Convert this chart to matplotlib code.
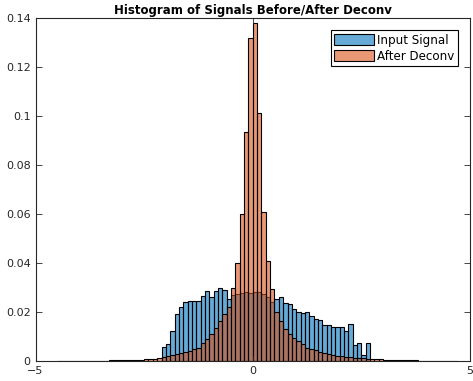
import numpy as np
import matplotlib
matplotlib.use("Agg")
import matplotlib.pyplot as plt

bin_width = 0.1

# Input signal histogram (probability), bins start at -2.1
blue_start = -2.1
blue_vals = [0.0058, 0.0068, 0.0124, 0.0193, 0.0221, 0.0241, 0.0245, 0.0245, 0.0243, 0.0264,
             0.0284, 0.0260, 0.0284, 0.0296, 0.0289, 0.0255, 0.0270, 0.0275, 0.0278, 0.0283,
             0.0277, 0.0280, 0.0283, 0.0275, 0.0262, 0.0240, 0.0255, 0.0262, 0.0235, 0.0231,
             0.0211, 0.0199, 0.0195, 0.0199, 0.0182, 0.0173, 0.0167, 0.0147, 0.0146, 0.0140,
             0.0139, 0.0139, 0.0122, 0.0152, 0.0065, 0.0072, 0.0024, 0.0072]

# After deconvolution histogram (probability), bins start at -4.5
orange_start = -4.5
orange_vals = [0.00003, 0.00004, 0.00005, 0.00006, 0.00007, 0.00008, 0.00010, 0.00011, 0.00013, 0.00015,
               0.00017, 0.00020, 0.00023, 0.00027, 0.00030, 0.00035, 0.00040, 0.00046, 0.00053, 0.00060,
               0.00070, 0.00080, 0.00090, 0.00110,
               0.0015, 0.0020, 0.0024, 0.0029, 0.0034, 0.0038, 0.0042, 0.0048, 0.0054, 0.0072,
               0.0090, 0.0110, 0.0134, 0.0165, 0.0190, 0.0222, 0.0297, 0.0400, 0.0600, 0.0936,
               0.1320, 0.1378, 0.1013, 0.0610, 0.0410, 0.0293, 0.0201, 0.0165, 0.0129, 0.0109,
               0.0093, 0.0082, 0.0068, 0.0054, 0.0049, 0.0044, 0.0038, 0.0034, 0.0029, 0.0025,
               0.0022, 0.0020, 0.0018, 0.0016, 0.0014, 0.0012, 0.0011, 0.0010, 0.0009, 0.0008,
               0.0007, 0.0006, 0.00053, 0.00046, 0.00040, 0.00035, 0.00030, 0.00026, 0.00022, 0.00019,
               0.00016, 0.00013, 0.00011, 0.00009, 0.00007, 0.00006, 0.00005, 0.00004]

labels = ["Input Signal", "After Deconv"]
title = "Histogram of Signals Before/After Deconv"

blue_face = (0.0, 0.447, 0.741, 0.6)
orange_face = (0.85, 0.325, 0.098, 0.6)

fig = plt.figure(figsize=(4.73, 3.81), dpi=100)
ax = fig.add_axes([35.5 / 473, 20 / 381, 434.5 / 473, 343 / 381])

bl = blue_start + bin_width * np.arange(len(blue_vals))
ol = orange_start + bin_width * np.arange(len(orange_vals))

ax.bar(bl, blue_vals, width=bin_width, align="edge", facecolor=blue_face,
       edgecolor="black", linewidth=0.8, label=labels[0])
ax.bar(ol, orange_vals, width=bin_width, align="edge", facecolor=orange_face,
       edgecolor="black", linewidth=0.8, label=labels[1])

ax.set_xlim(-5, 5)
ax.set_ylim(0, 0.14)
ax.set_xticks([-5, 0, 5])
ax.set_yticks(np.arange(0, 0.141, 0.02))
ax.set_yticklabels(["0", "0.02", "0.04", "0.06", "0.08", "0.1", "0.12", "0.14"])
ax.tick_params(direction="in", length=4, width=0.6, top=True, right=True, labelsize=8,
               colors="#262626")
for s in ax.spines.values():
    s.set_linewidth(0.8)
    s.set_color("#262626")

ax.set_title(title, fontsize=8.5, fontweight="bold", pad=3)
leg = ax.legend(loc="upper right", fontsize=8.6, frameon=True, fancybox=False,
                edgecolor="black", handlelength=3.3, handleheight=1.0,
                borderpad=0.3, labelspacing=0.25, handletextpad=0.3,
                borderaxespad=1.0, framealpha=1)
leg.get_frame().set_linewidth(0.8)

fig.savefig("out.png", dpi=100)
